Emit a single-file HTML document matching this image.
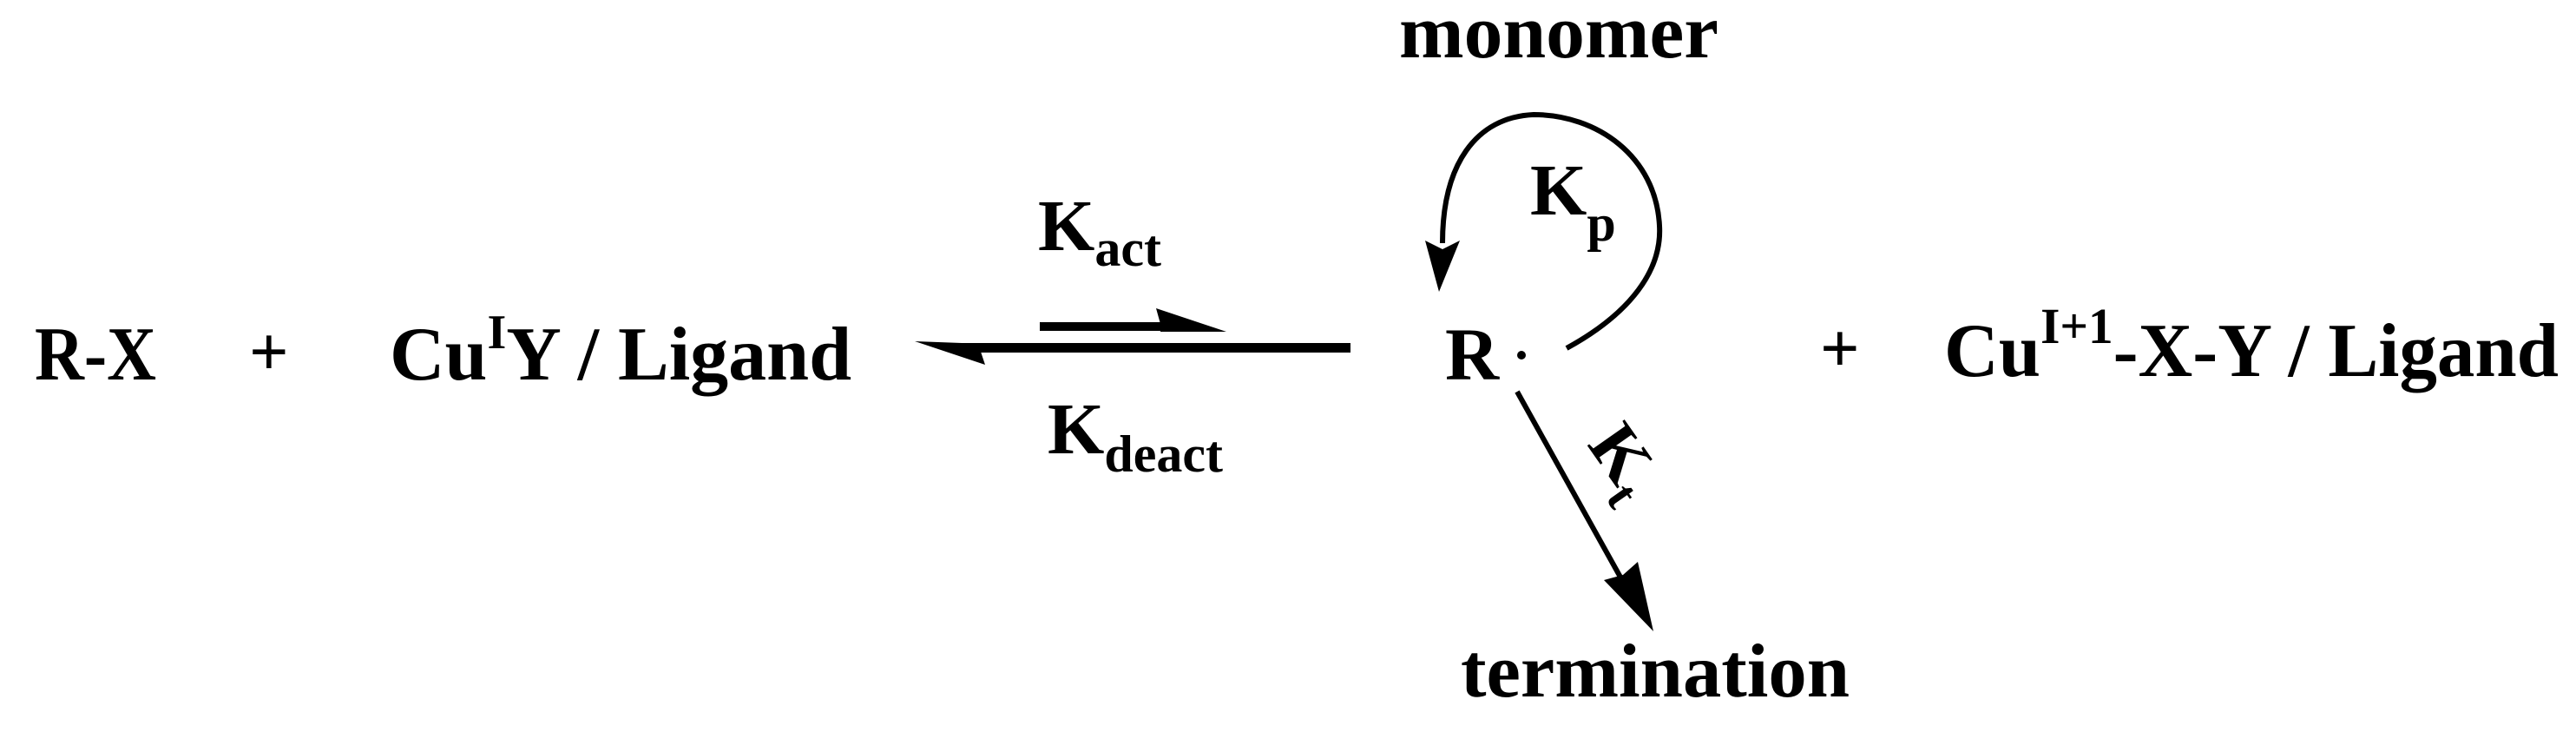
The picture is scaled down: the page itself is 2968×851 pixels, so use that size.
<!DOCTYPE html>
<html><head><meta charset="utf-8"><style>
html,body{margin:0;padding:0;background:#fff;}
svg{display:block;}
text{font-family:"Liberation Serif",serif;font-weight:bold;fill:#000;}
</style></head><body>
<svg width="2968" height="851" viewBox="0 0 2968 851" xmlns="http://www.w3.org/2000/svg">
<text x="40" y="437" font-size="88" textLength="140" lengthAdjust="spacingAndGlyphs">R-X</text>
<text x="287" y="432" font-size="80">+</text>
<text x="449" y="437" font-size="88">Cu<tspan dy="-36" font-size="56">I</tspan><tspan dy="36">Y / Ligand</tspan></text>

<text x="1196" y="288" font-size="84">K<tspan dy="18" font-size="60">act</tspan></text>
<text x="1207" y="522" font-size="84">K<tspan dy="21" font-size="60">deact</tspan></text>

<!-- forward harpoon -->
<rect x="1198" y="371" width="150" height="10" fill="#000"/>
<polygon points="1332,355 1413,382 1337,382 1337,373" fill="#000"/>
<!-- reverse harpoon -->
<rect x="1100" y="395" width="456" height="11" fill="#000"/>
<polygon points="1054,393 1135,396 1130,405 1135,420" fill="#000"/>

<text x="1612" y="66" font-size="88" textLength="368" lengthAdjust="spacingAndGlyphs">monomer</text>

<!-- curved arrow -->
<path d="M1805,401 C1880,360 1915,310 1912,260 C1908,180 1840,132 1767,132 C1700,135 1662,190 1662,280" fill="none" stroke="#000" stroke-width="6"/>
<polygon points="1642,277 1658,336 1682,277 1662,287" fill="#000"/>
<text x="1763" y="247" font-size="84">K<tspan dy="30" font-size="60">p</tspan></text>

<text x="1665" y="437" font-size="86">R</text>
<circle cx="1753" cy="409" r="5" fill="#000"/>

<!-- termination arrow -->
<line x1="1748" y1="451" x2="1870" y2="670" stroke="#000" stroke-width="6"/>
<polygon points="1848,668 1905,727 1887,647 1870,662" fill="#000"/>
<text transform="translate(1828,512) rotate(55)" font-size="80">K<tspan dy="18" font-size="56">t</tspan></text>

<text x="1683" y="802" font-size="88" textLength="448" lengthAdjust="spacingAndGlyphs">termination</text>

<text x="2097" y="428" font-size="80">+</text>
<text x="2240" y="433" font-size="88" textLength="708" lengthAdjust="spacingAndGlyphs">Cu<tspan dy="-38" font-size="58">I+1</tspan><tspan dy="38">-X-Y / Ligand</tspan></text>
</svg>
</body></html>
